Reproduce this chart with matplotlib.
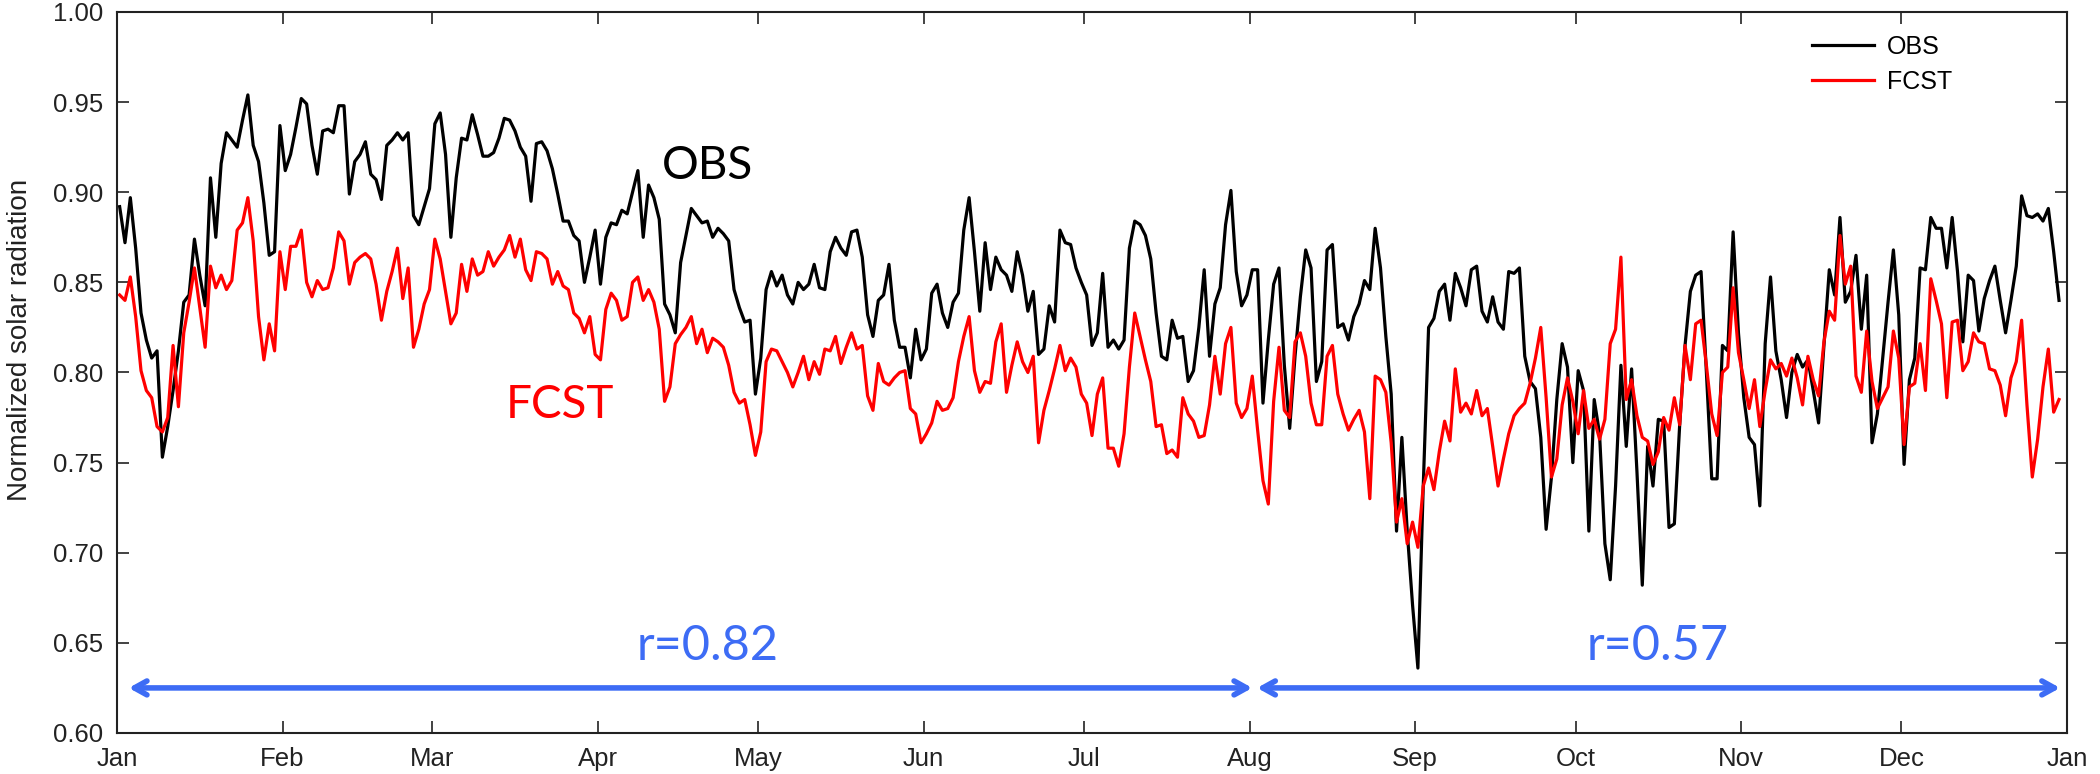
import numpy as np
import matplotlib
matplotlib.use('Agg')
import matplotlib.pyplot as plt

# daily normalized solar radiation, one value per day of the year
obs = [
    0.892, 0.872, 0.897, 0.869, 0.833, 0.818, 0.808, 0.812, 0.753, 0.770,
    0.790, 0.812, 0.839, 0.843, 0.874, 0.854, 0.837, 0.908, 0.875, 0.916,
    0.933, 0.929, 0.925, 0.940, 0.954, 0.926, 0.917, 0.894, 0.865, 0.867,
    0.937, 0.912, 0.921, 0.936, 0.952, 0.949, 0.926, 0.910, 0.934, 0.935,
    0.933, 0.948, 0.948, 0.899, 0.917, 0.921, 0.928, 0.910, 0.907, 0.896,
    0.926, 0.929, 0.933, 0.929, 0.933, 0.887, 0.882, 0.892, 0.902, 0.938,
    0.944, 0.921, 0.875, 0.908, 0.930, 0.929, 0.943, 0.932, 0.920, 0.920,
    0.922, 0.930, 0.941, 0.940, 0.934, 0.925, 0.920, 0.895, 0.927, 0.928,
    0.923, 0.913, 0.899, 0.884, 0.884, 0.876, 0.873, 0.850, 0.864, 0.879,
    0.849, 0.875, 0.883, 0.882, 0.890, 0.888, 0.900, 0.912, 0.875, 0.904,
    0.897, 0.885, 0.838, 0.832, 0.822, 0.861, 0.876, 0.891, 0.887, 0.883,
    0.884, 0.875, 0.880, 0.877, 0.873, 0.846, 0.836, 0.828, 0.829, 0.788,
    0.808, 0.846, 0.856, 0.848, 0.854, 0.843, 0.838, 0.850, 0.846, 0.849,
    0.860, 0.847, 0.846, 0.867, 0.875, 0.869, 0.865, 0.878, 0.879, 0.864,
    0.832, 0.820, 0.840, 0.843, 0.860, 0.829, 0.814, 0.814, 0.797, 0.824,
    0.807, 0.813, 0.844, 0.849, 0.833, 0.825, 0.839, 0.844, 0.879, 0.897,
    0.867, 0.834, 0.872, 0.846, 0.864, 0.857, 0.854, 0.845, 0.867, 0.854,
    0.834, 0.845, 0.810, 0.813, 0.837, 0.828, 0.879, 0.872, 0.871, 0.858,
    0.850, 0.843, 0.815, 0.822, 0.855, 0.814, 0.818, 0.813, 0.818, 0.869,
    0.884, 0.882, 0.876, 0.863, 0.833, 0.809, 0.807, 0.829, 0.819, 0.820,
    0.795, 0.801, 0.825, 0.857, 0.809, 0.838, 0.847, 0.882, 0.901, 0.856,
    0.837, 0.843, 0.857, 0.857, 0.783, 0.818, 0.849, 0.858, 0.804, 0.769,
    0.809, 0.842, 0.868, 0.858, 0.795, 0.806, 0.868, 0.871, 0.825, 0.827,
    0.818, 0.831, 0.838, 0.851, 0.846, 0.880, 0.858, 0.820, 0.788, 0.712,
    0.764, 0.712, 0.671, 0.636, 0.737, 0.825, 0.830, 0.845, 0.849, 0.829,
    0.855, 0.847, 0.837, 0.857, 0.859, 0.834, 0.828, 0.842, 0.828, 0.824,
    0.856, 0.855, 0.858, 0.809, 0.795, 0.791, 0.764, 0.713, 0.742, 0.785,
    0.816, 0.803, 0.750, 0.801, 0.790, 0.712, 0.785, 0.766, 0.705, 0.685,
    0.737, 0.804, 0.759, 0.802, 0.745, 0.682, 0.759, 0.737, 0.774, 0.773,
    0.714, 0.716, 0.771, 0.815, 0.845, 0.854, 0.856, 0.800, 0.741, 0.741,
    0.815, 0.812, 0.878, 0.822, 0.786, 0.764, 0.760, 0.726, 0.816, 0.853,
    0.812, 0.796, 0.775, 0.800, 0.810, 0.803, 0.807, 0.790, 0.772, 0.815,
    0.857, 0.843, 0.886, 0.839, 0.845, 0.865, 0.824, 0.854, 0.761, 0.777,
    0.808, 0.839, 0.868, 0.832, 0.749, 0.796, 0.808, 0.858, 0.857, 0.886,
    0.880, 0.880, 0.858, 0.886, 0.856, 0.817, 0.854, 0.851, 0.823, 0.841,
    0.851, 0.859, 0.840, 0.822, 0.840, 0.859, 0.898, 0.887, 0.886, 0.888,
    0.884, 0.891, 0.867, 0.840,
]

fcst = [
    0.843, 0.840, 0.853, 0.831, 0.801, 0.790, 0.786, 0.770, 0.767, 0.775,
    0.815, 0.781, 0.822, 0.839, 0.858, 0.836, 0.814, 0.859, 0.847, 0.854,
    0.846, 0.851, 0.879, 0.883, 0.897, 0.873, 0.831, 0.807, 0.827, 0.812,
    0.867, 0.846, 0.870, 0.870, 0.879, 0.850, 0.842, 0.851, 0.846, 0.847,
    0.858, 0.878, 0.873, 0.849, 0.861, 0.864, 0.866, 0.863, 0.849, 0.829,
    0.845, 0.856, 0.869, 0.841, 0.858, 0.814, 0.824, 0.838, 0.846, 0.874,
    0.863, 0.845, 0.827, 0.833, 0.860, 0.845, 0.863, 0.854, 0.856, 0.867,
    0.859, 0.864, 0.868, 0.876, 0.864, 0.874, 0.857, 0.851, 0.867, 0.866,
    0.863, 0.849, 0.856, 0.848, 0.846, 0.833, 0.830, 0.822, 0.831, 0.810,
    0.807, 0.835, 0.844, 0.840, 0.829, 0.831, 0.850, 0.853, 0.840, 0.846,
    0.839, 0.824, 0.784, 0.792, 0.816, 0.821, 0.825, 0.831, 0.816, 0.824,
    0.811, 0.819, 0.817, 0.814, 0.804, 0.789, 0.783, 0.785, 0.771, 0.754,
    0.767, 0.806, 0.813, 0.812, 0.806, 0.800, 0.792, 0.800, 0.809, 0.796,
    0.806, 0.799, 0.813, 0.812, 0.820, 0.805, 0.814, 0.822, 0.813, 0.815,
    0.787, 0.779, 0.805, 0.795, 0.793, 0.797, 0.800, 0.801, 0.780, 0.777,
    0.761, 0.766, 0.772, 0.784, 0.779, 0.780, 0.786, 0.806, 0.820, 0.831,
    0.801, 0.789, 0.795, 0.794, 0.817, 0.827, 0.789, 0.804, 0.817, 0.806,
    0.800, 0.809, 0.761, 0.779, 0.790, 0.802, 0.815, 0.801, 0.808, 0.803,
    0.788, 0.783, 0.765, 0.788, 0.797, 0.758, 0.758, 0.748, 0.766, 0.803,
    0.833, 0.820, 0.807, 0.795, 0.770, 0.771, 0.755, 0.757, 0.753, 0.786,
    0.777, 0.773, 0.764, 0.765, 0.782, 0.809, 0.788, 0.816, 0.825, 0.783,
    0.775, 0.780, 0.798, 0.768, 0.740, 0.727, 0.784, 0.814, 0.779, 0.775,
    0.817, 0.822, 0.809, 0.783, 0.771, 0.771, 0.809, 0.815, 0.788, 0.777,
    0.768, 0.774, 0.779, 0.767, 0.730, 0.798, 0.796, 0.789, 0.761, 0.717,
    0.730, 0.705, 0.717, 0.703, 0.737, 0.747, 0.735, 0.756, 0.773, 0.762,
    0.802, 0.778, 0.783, 0.777, 0.790, 0.776, 0.780, 0.759, 0.737, 0.752,
    0.766, 0.776, 0.780, 0.783, 0.794, 0.808, 0.825, 0.786, 0.742, 0.752,
    0.782, 0.797, 0.784, 0.766, 0.790, 0.769, 0.774, 0.763, 0.774, 0.816,
    0.824, 0.864, 0.785, 0.796, 0.776, 0.764, 0.762, 0.749, 0.756, 0.775,
    0.768, 0.786, 0.771, 0.815, 0.796, 0.827, 0.829, 0.804, 0.777, 0.765,
    0.800, 0.803, 0.847, 0.811, 0.796, 0.780, 0.796, 0.770, 0.790, 0.807,
    0.802, 0.805, 0.798, 0.808, 0.797, 0.782, 0.809, 0.796, 0.787, 0.817,
    0.834, 0.829, 0.876, 0.849, 0.859, 0.798, 0.789, 0.823, 0.795, 0.780,
    0.786, 0.792, 0.823, 0.808, 0.760, 0.792, 0.794, 0.816, 0.790, 0.852,
    0.840, 0.827, 0.786, 0.828, 0.829, 0.801, 0.806, 0.822, 0.817, 0.816,
    0.802, 0.801, 0.793, 0.776, 0.797, 0.806, 0.829, 0.782, 0.742, 0.763,
    0.792, 0.813, 0.778, 0.785,
]

month_starts = [0, 31, 59, 90, 120, 151, 181, 212, 243, 273, 304, 334, 365]
month_labels = ['Jan', 'Feb', 'Mar', 'Apr', 'May', 'Jun', 'Jul',
                'Aug', 'Sep', 'Oct', 'Nov', 'Dec', 'Jan']
yticks = [0.60, 0.65, 0.70, 0.75, 0.80, 0.85, 0.90, 0.95, 1.00]

# correlation of the two series over each part of the year
periods = [(2.2, 212.5, 110.6, 'r=0.82'), (213.4, 363.7, 288.3, 'r=0.57')]

plt.rcParams['font.family'] = ['Liberation Sans', 'DejaVu Sans']

fig = plt.figure(figsize=(21, 7.74), dpi=100)
ax = fig.add_axes([0.0557, 0.053, 0.9286, 0.9315])

ax.plot(np.arange(len(obs)) + 0.5, obs, color='black', lw=2.3, label='OBS')
ax.plot(np.arange(len(fcst)) + 0.5, fcst, color='#ff0000', lw=2.3, label='FCST')

ax.set_xlim(0, 365)
ax.set_ylim(0.60, 1.00)
ax.set_xticks(month_starts)
ax.set_xticklabels(month_labels)
ax.set_yticks(yticks)
ax.set_yticklabels(['%.2f' % v for v in yticks])
ax.tick_params(direction='in', length=8.5, width=1.2, top=True, right=True,
               labelsize=18.5, colors='#222222', pad=10)
for sp in ax.spines.values():
    sp.set_linewidth(1.5)
    sp.set_color('#222222')
ax.set_ylabel('Normalized solar radiation', fontsize=20, color='#222222')
ax.yaxis.set_label_coords(-0.043, 0.545)

leg = ax.legend(loc='upper left', bbox_to_anchor=(0.869, 0.968), frameon=False,
                fontsize=18, handlelength=2.5, handletextpad=0.5,
                borderaxespad=0, borderpad=0, labelspacing=0.44)

big = ['Lato', 'DejaVu Sans']
ax.text(110.6, 0.9146, 'OBS', fontsize=33, color='black', family=big,
        ha='center', va='center')
ax.text(82.9, 0.782, 'FCST', fontsize=33, color='#ff0000', family=big,
        ha='center', va='center')

blue = '#3d6cf5'
for x0, x1, xc, lab in periods:
    ax.annotate('', xy=(x1, 0.625), xytext=(x0, 0.625),
                arrowprops=dict(arrowstyle='<->,head_length=0.9,head_width=0.5',
                                color=blue, lw=4, shrinkA=0, shrinkB=0))
    ax.text(xc, 0.648, lab, fontsize=35, color=blue, family=big,
            ha='center', va='center')

fig.savefig('out.png', dpi=100)
